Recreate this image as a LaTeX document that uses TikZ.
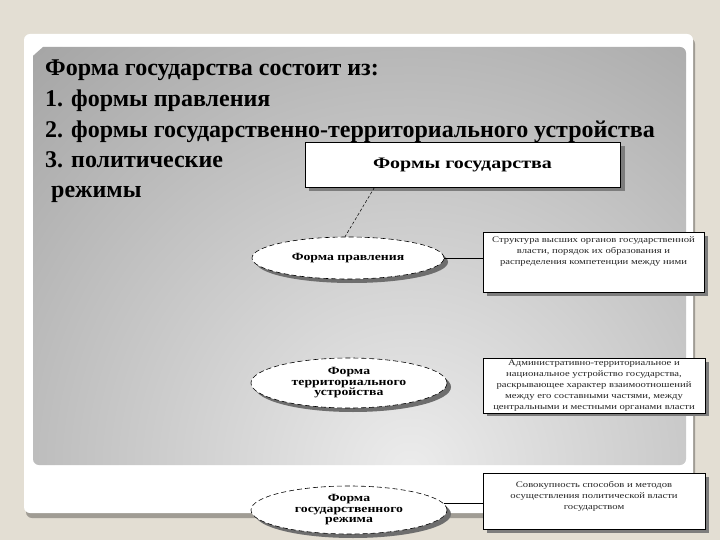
\documentclass[tikz,border=0pt]{standalone}
\usepackage{fontspec}
\setmainfont{Liberation Serif}
\newfontfamily\wideserif[FakeStretch=1.25]{Liberation Serif}
\usetikzlibrary{shapes.geometric,calc}
\definecolor{bgc}{RGB}{227,222,211}
\definecolor{frameshadow}{RGB}{160,156,148}
\definecolor{panelin}{RGB}{236,236,236}
\definecolor{panelout}{RGB}{166,166,166}
\definecolor{boxshadow}{RGB}{125,125,125}
\definecolor{ellshadow}{RGB}{110,110,110}
\begin{document}
\begin{tikzpicture}[x=1pt,y=-1pt,
  tbox/.style={rectangle,draw=black,line width=0.7pt,fill=white,inner sep=0pt},
  ell/.style={ellipse,draw=black,dash pattern=on 5pt off 3pt,line width=0.6pt,fill=white,inner sep=0pt,align=center,font=\wideserif\bfseries\fontsize{11}{10.5}\selectfont},
  desc/.style={align=center,text=black!85,inner sep=0pt,font=\wideserif\fontsize{8.5}{10.8}\selectfont},
  titleline/.style={anchor=base west,inner sep=0pt,font=\bfseries\fontsize{24}{24}\selectfont},
  conn/.style={line width=0.5pt,draw=black}]
\useasboundingbox (0,0) rectangle (720,540);
\fill[bgc] (0,0) rectangle (720,540);
% slide frame
\fill[frameshadow,rounded corners=6pt] (26,38) rectangle (695,518);
\fill[white,rounded corners=6pt] (24,34) rectangle (693,513);
\begin{scope}
  \clip[rounded corners=6pt] (33,47) rectangle (686,465);
  \shade[inner color=panelin,outer color=panelout] (410,470) circle (560);
\end{scope}
% title text
\node[titleline] (l1) at (45,76) {Форма государства состоит из:};
\node[titleline] (l2) at (45,107) {1. формы правления};
\node[titleline] (l3) at (45,138) {2. формы государственно-территориального устройства};
\node[titleline] (l4) at (45,168) {3. политические};
\node[titleline] (l5) at (45,198) {\ режимы};
% shadows
\fill[boxshadow] (309,146) rectangle (625,191);
\fill[boxshadow] (487,236) rectangle (708,296);
\fill[boxshadow] (487,362) rectangle (709,416);
\fill[boxshadow] (487,477) rectangle (709,533);
\fill[ellshadow] (352,262) ellipse [x radius=96, y radius=21];
\fill[ellshadow] (353,387) ellipse [x radius=98, y radius=25];
\fill[ellshadow] (353,514) ellipse [x radius=98, y radius=24];
% top box
\node[tbox,minimum width=315pt,minimum height=45pt,font=\wideserif\bfseries\fontsize{16}{16}\selectfont] (tb) at (462.5,164.5) {Формы государства};
% ellipses
\node[ell,minimum width=192pt,minimum height=42pt] (e1) at (348,258) {Форма правления};
\node[ell,minimum width=196pt,minimum height=50pt] (e2) at (349,383) {Форма\\территориального\\устройства};
\node[ell,minimum width=196pt,minimum height=48pt] (e3) at (349,510) {Форма\\государственного\\режима};
% description boxes
\node[tbox,minimum width=221pt,minimum height=60pt] (b1) at (593.5,262) {};
\node[desc,anchor=north] (t1) at ($(b1.north)+(0,5)$) {Структура высших органов государственной\\власти, порядок их образования и\\распределения компетенции между ними};
\node[tbox,minimum width=222pt,minimum height=55pt] (b2) at (594,385.5) {};
\node[desc] (t2) at (b2.center) {Административно-территориальное и\\национальное устройство государства,\\раскрывающее характер взаимоотношений\\между его составными частями, между\\центральными и местными органами власти};
\node[tbox,minimum width=222pt,minimum height=56pt] (b3) at (594,501) {};
\node[desc,anchor=north] (t3) at ($(b3.north)+(0,9)$) {Совокупность способов и методов\\осуществления политической власти\\государством};
% connectors
\draw[conn,densely dashed] ([xshift=-88pt]tb.south) -- ([xshift=-3pt]e1.north);
\draw[conn] (e1.east) -- (e1.east -| b1.west);
\draw[conn] (e3.4) -- (e3.4 -| b3.west);
\end{tikzpicture}
\end{document}
